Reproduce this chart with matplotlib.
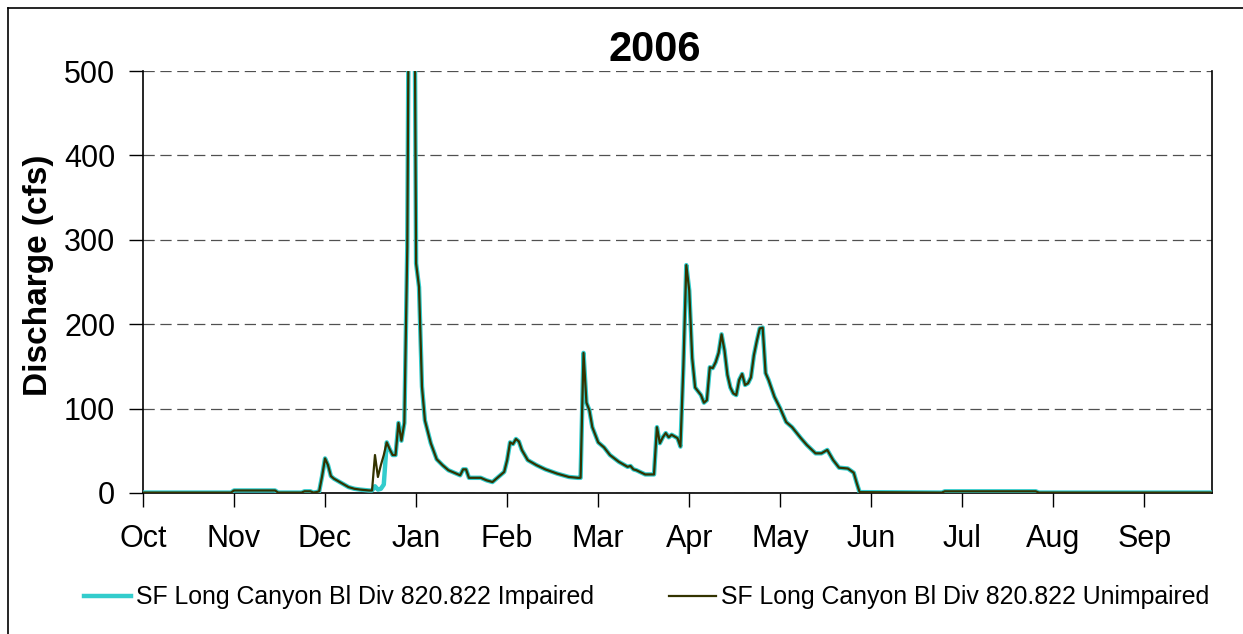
import matplotlib
matplotlib.use("Agg")
import matplotlib.pyplot as plt
from matplotlib.lines import Line2D

plt.rcParams['font.family'] = ['Liberation Sans', 'DejaVu Sans']

# day of water year (0 = Oct 1) where the flow changes, and flow in cfs
days = [0, 30, 31, 45, 46, 54, 55, 57, 58, 59, 60, 61, 62, 63, 64, 65, 67, 70, 72, 74,
        77, 78, 79, 80, 81, 82, 83, 84, 85, 86, 87, 88, 89, 90, 91, 92, 93, 94, 95, 96,
        98, 100, 102, 104, 106, 108, 109, 110, 111, 115, 117, 119, 121, 123, 124, 125, 126, 127,
        128, 129, 131, 134, 137, 141, 145, 148, 149, 150, 151, 152, 153, 155, 157, 159, 162,
        165, 166, 167, 168, 171, 174, 175, 176, 177, 178, 179, 180, 181, 182, 183, 184, 185,
        186, 187, 188, 190, 191, 192, 193, 194, 195, 196, 197, 198, 199, 200, 201, 202, 203,
        204, 205, 206, 207, 208, 209, 210, 211, 212, 213, 215, 217, 219, 221, 224, 226, 229,
        231, 233, 235, 237, 240, 242, 243, 244, 272, 273, 304, 305, 364]
unimpaired = [0.5, 0.5, 3, 3, 0.5, 0.5, 2, 2, 0.5, 1, 2, 20, 41, 33, 20, 17, 13, 7, 5, 4,
              3, 3, 45, 19, 33, 45, 60, 52, 45, 45, 83, 62, 83, 291, 900, 900, 272, 244, 126, 86,
              59, 40, 33, 27, 24, 21, 28, 28, 18, 18, 15, 13, 19, 25, 39, 60, 58, 64,
              61, 51, 39, 33, 28, 23, 19, 18, 18, 166, 107, 98, 78, 60, 54, 45, 37,
              31, 32, 28, 27, 22, 22, 78, 59, 66, 71, 66, 69, 67, 65, 55, 150, 270,
              240, 160, 125, 116, 107, 110, 149, 148, 155, 166, 188, 169, 140, 125, 118, 116, 134,
              141, 128, 130, 137, 163, 180, 195, 196, 142, 134, 114, 100, 84, 78, 65, 57, 47,
              47, 51, 39, 30, 29, 24, 12, 1, 0.5, 2, 2, 0.5, 0.5]
# impaired flow differs only in mid December
impaired_diff = {79: 8, 80: 4, 81: 5, 82: 10}
impaired = [impaired_diff.get(d, v) for d, v in zip(days, unimpaired)]

month_ticks = [i * 31 for i in range(12)]
month_labels = ['Oct', 'Nov', 'Dec', 'Jan', 'Feb', 'Mar', 'Apr', 'May', 'Jun', 'Jul', 'Aug', 'Sep']

fig = plt.figure(figsize=(12.43, 6.34), dpi=100)
ax = fig.add_axes([0.1150, 0.2224, 0.8601, 0.6656])

ax.plot(days, impaired, color='#33CCCC', lw=3.2, solid_joinstyle='round',
        label='SF Long Canyon Bl Div 820.822 Impaired', zorder=3)
ax.plot(days, unimpaired, color='#333300', lw=1.6,
        label='SF Long Canyon Bl Div 820.822 Unimpaired', zorder=4)

ax.set_xlim(0, 364)
ax.set_ylim(0, 500)
ax.set_xticks(month_ticks)
ax.set_xticklabels(month_labels)
ax.set_yticks([0, 100, 200, 300, 400, 500])
ax.tick_params(axis='x', labelsize=22, length=10, width=1, pad=12, direction='out')
ax.tick_params(axis='y', labelsize=22, length=10, width=1, pad=10, direction='out')
ax.yaxis.grid(True, color='#505050', linestyle=(0, (9, 4.5)), lw=0.9)
ax.set_axisbelow(True)
ax.spines['top'].set_visible(False)
for s in ['left', 'bottom', 'right']:
    ax.spines[s].set_linewidth(1.2)

fig.text(0.527, 0.921, '2006', fontsize=30, fontweight='bold', ha='center', va='center')
fig.text(0.031, 0.565, 'Discharge (cfs)', fontsize=24, fontweight='bold',
         rotation=90, ha='center', va='center')

fig.legend(loc='center', bbox_to_anchor=(0.52, 0.058), ncol=2, frameon=False,
           fontsize=17.9, handlelength=1.9, handletextpad=0.2, columnspacing=3.0)

# outer frame (left and top edges)
fig.add_artist(Line2D([0.0064, 0.0064], [0, 0.9874], color='black', lw=1.2))
fig.add_artist(Line2D([0.0064, 1], [0.9874, 0.9874], color='black', lw=1.2))

fig.savefig('out.png', dpi=100)
